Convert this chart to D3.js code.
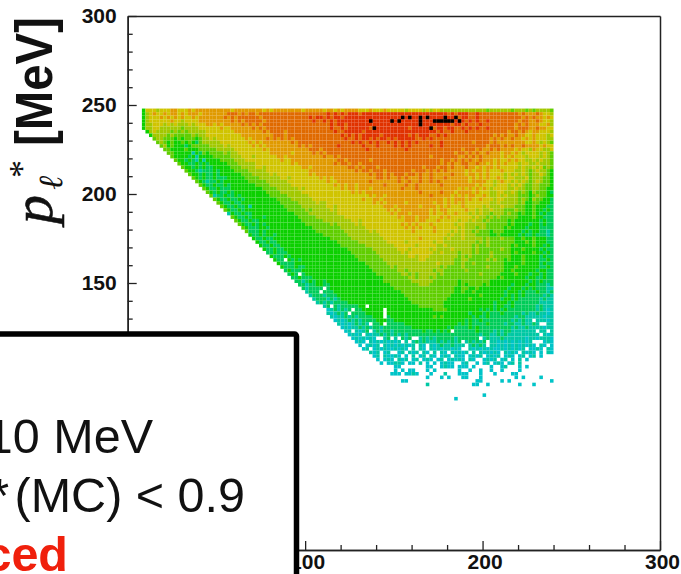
<!DOCTYPE html>
<html lang="en">
<head>
	<meta charset="UTF-8"/>
	<title>p_l* heat map</title>
	<script src="https://d3js.org/d3.v7.min.js"></script>
	<style>
		body{ margin:0; background:#fff; }
		svg{ display:block; }
		.tick text{ font-family:"Liberation Sans", Arial, sans-serif; font-weight:bold; font-size:21px; fill:#111; }
		.axis path{ stroke:#222; stroke-width:1.5; }
		.axis line{ stroke:#222; stroke-width:1.3; }
		.boxText{ font-family:"Liberation Sans", Arial, sans-serif; font-size:48.5px; fill:#111; }
	</style>
</head>
<body>
	<div id="chart"></div>
	<script>
	var w = 681;
	var h = 574;

	var xBins = 2, yBins = 2;
	var xFirstBin = 8;
	var yFirstBin = 246;

	// colour level per bin, one string per row from the top down, '.' = empty bin
	var rows = [
	"3666566677 6667677777 7777767777 7777676777 7777767777 7677676777 7666766676 6666566665 6566555555 5555555455 5555455545 455554",
	"3567667677 6767776777 7777888787 8878888888 8888888888 8898989899 9899999999 9999999999 9999998989 9988988888 8888887877 787665",
	"3566676767 6766767777 7778787888 8887888888 8888888989 9898998999 9999999999 9999999999 9999999998 9988988888 8888888787 877676",
	"3566666676 6566667777 7777787878 8888788888 8888888898 8989899999 9999999999 9999999999 9999999999 9898988988 8888887887 787665",
	"3556665656 5556566677 6767777787 8787888888 8888888888 8889899899 9999999999 9999999999 9999999899 8988898888 8888878787 776675",
	"3556655555 5455556666 6676677777 7878788888 8888888888 8889889899 9999899999 9999989999 9989989988 9898988988 8888878887 787766",
	".356555545 4545555566 6666667777 7777878888 7888888888 8888988999 9989999999 9999999999 9998988988 8988888888 8887887876 776665",
	"..35555454 4444545566 6666666677 7777777888 7888888888 8888889898 9899999899 9999989899 9889898888 8888888887 8787787766 766656",
	"...4554443 4344434556 5666666667 6777787878 7878888888 8888888988 9899898998 9899999889 8988888888 8888888878 7877877676 766655",
	"....454343 3434324555 5566666666 7676777777 7787888888 8888888889 8988989889 8989898988 8888988888 8887888878 7777777766 765654",
	".....45343 3323444445 5556566666 6767677777 7777878788 8888898888 8898889888 8989898888 8988988888 8888888788 8787877877 776766",
	"......4433 3343334444 4555556666 6666767777 7777777888 7888888888 8889888888 8888988888 8888888888 7888787787 8777767665 766556",
	".......443 3333132434 4445455666 6666667777 7767777787 8788888888 8888888888 8888888888 8888888878 8787877877 7677676566 665654",
	"........43 3332313333 4444455566 6566666677 6777777777 7877878888 8888888888 8888888888 8788888887 7878787777 7676766656 665654",
	".........4 3323213133 3344445556 6666666667 6677777777 7777788788 8888788888 8888888888 8888788787 8787787776 7667676655 656554",
	".......... 4332232323 3333444555 5566666666 6676777777 7777878878 8788888888 8888888888 8888787877 8877877676 7676665665 565554",
	".......... .433232322 3333344455 5566566666 6666677677 7777777788 7878887888 8888888887 8887887877 7877676776 7666665655 656454",
	".......... ..43321222 3233334444 5555566666 6666666777 7777777777 8788788878 8888887888 7878787777 7676776766 6766655654 565543",
	".......... ...4332322 3233333344 4555556566 6666666767 7777777777 7777878878 7888788787 7877777877 7677676766 6656565654 556543",
	".......... ....432322 3222333334 4445555556 6566666666 7676777777 7777778878 7787877787 7877787777 7767676766 7656655564 555443",
	".......... .....43212 2323333333 4444455555 5666666666 6676677777 7777877777 7787787787 7878777777 7767777665 6766565654 565443",
	".......... ......4322 3223233333 3344445555 5566666666 6666767677 6777777787 7777877877 7777877777 7777676665 6665656544 554443",
	".......... .......432 2322233333 3333444455 5555656666 6666667677 6777677777 7778777877 7777777776 7676767656 6665565544 554433",
	".......... ........43 2322323333 3333344445 5555566666 6666666667 6767777777 7777777787 7777877767 7776766655 6655654543 544432",
	".......... .........4 1223223233 3333334444 4555555666 6666666666 6666767767 7777777777 7877777676 7677667655 6565554443 454433",
	".......... .......... 4322322323 3333333344 4455555566 6666666666 6676677677 7777777777 7777767677 7676676665 6655554543 544332",
	".......... .......... .432232233 3333333334 4444555556 5566666666 6666676767 7777677777 7767767676 7666666655 6555554533 443332",
	".......... .......... ..43223223 1333333333 4444455555 5566566666 6666666677 7677777767 7776767666 7666665655 5655544433 433322",
	".......... .......... ...4322323 3333333333 3444445455 5556566666 6666666667 6767777777 7676776666 6766565565 5544454433 433232",
	".......... .......... ....132232 2333333333 3334444555 5555566666 6666666666 7677767777 7676676676 6656565545 5545443433 432322",
	".......... .......... .....43223 2333233333 3333444445 5555555666 6666666666 6676777677 7666767666 6665655454 5444443333 433222",
	".......... .......... ......4322 3223333333 3333344444 4555555556 6566666666 6666777677 6667666665 6656554544 4443433333 332322",
	".......... .......... .......432 2323233333 3333334444 4445455555 6566666666 6667676766 6766666656 6555555444 4443433332 332322",
	".......... .......... ........43 2223323333 3333333344 4444445555 5556666666 6666767676 6676666665 6555455444 4434333323 332222",
	".......... .......... .........4 2223233333 3333333334 4444444555 5555656666 6666667666 6676666565 6554544434 4433333232 332212",
	".......... .......... .......... 3223233233 3333333333 3444444455 5555555666 6666666666 6666665655 6555444433 4333332322 322212",
	".......... .......... .......... .322322333 3333333333 3334444445 5555555566 6666666676 6666656555 6555554544 4544433433 433322",
	".......... .......... .......... ..32232233 3333333333 3333344444 4555555556 6666566666 6656655555 5555454544 4444433343 433322",
	".......... .......... .......... ...3223223 3333333333 3333334444 4445555555 5666666566 6665565555 5554544544 4444343333 433232",
	".......... .......... .......... ....322322 3333333333 3333333344 4444455555 5566656666 6565555655 5554544444 4544333433 332322",
	".......... .......... .......... .....22322 2333333333 3333333334 4444445555 5556566666 6655655554 5554544454 4444343333 433232",
	".......... .......... .......... ......3222 3233333333 3333333333 4444444555 5555566566 6555555554 5454444454 4444333433 332322",
	".......... .......... .......... .......322 .323233333 3333333333 3444444455 5555555566 5555555544 5544444545 4434333433 332232",
	".......... .......... .......... ........32 2223333333 3333333333 3334444445 5555555555 5556555544 5445444444 4433333433 332322",
	".......... .......... .......... .........3 2223223333 3333333333 3333444444 5455555555 5555454444 5444444544 4433343333 332232",
	".......... .......... .......... .......... 2322233333 3333333333 3333344444 4455455555 5545544444 4544444444 4433433333 323322",
	".......... .......... .......... .......... .232.23333 3333333333 3333334444 4445545455 5554544444 4444454444 4333343332 332322",
	".......... .......... .......... .......... ..22322233 3333333333 3333333344 4444455455 5454444444 4444444444 3433333323 322322",
	".......... .......... .......... .......... ...2212323 3233333333 3333333344 4444445555 5544444443 4444444433 3333333332 323222",
	".......... .......... .......... .......... ....221223 3223333333 3333333333 4444444455 5444444443 4344443433 3333233323 322212",
	".......... .......... .......... .......... .....21222 2.23333333 3333333333 3444444444 4444444433 4433433333 3332333232 322211",
	".......... .......... .......... .......... ......1222 .222333333 3333333333 3334444444 4444444433 4334333333 3323332322 232212",
	".......... .......... .......... .......... .......122 2122233333 3333333333 3333444444 4444444333 3333343333 3323232322 222121",
	".......... .......... .......... .......... ........12 2212123333 3333333333 3333344444 4444443333 3343333333 3233232222 221211",
	".......... .......... .......... .......... .........1 2121222233 3333333333 3333334444 4444433333 3333333332 3332322222 221111",
	".......... .......... .......... .......... .......... .12.212222 233.333333 3333333344 4444433333 3333333332 3322322222 212111",
	".......... .......... .......... .......... .......... ..0121212. 22333333.3 3333333333 3344443333 3333323232 3232222222 212101",
	".......... .......... .......... .......... .......... ..101212.2 22233333.3 3333333333 3333333333 3323332322 2322222121 121101",
	".......... .......... .......... .......... .......... ...1011212 12222333.2 3333333333 3343433333 3332322322 2222212211 111011",
	".......... .......... .......... .......... .......... ....010121 2122223332 2333333333 3333333333 3232232222 2222121211 .11101",
	".......... .......... .......... .......... .......... .....10101 2121.223.2 2222333333 3333333332 3232222322 2212211211 21..11",
	".......... .......... .......... .......... .......... ......0101 1212122122 2222223333 3333332322 2232322222 2222121121 111011",
	".......... .......... .......... .......... .......... .......01. 1012.12122 1222222223 2232323.22 2222322221 2122111111 1.11.1",
	".......... .......... .......... .......... .......... ........01 01.1011212 1212122222 2222222222 2222212211 2121111111 11.101",
	".......... .......... .......... .......... .......... .........0 101010..12 .1.212..12 1212222212 22222.1211 1211111101 101110",
	".......... .......... .......... .......... .......... .......... 010.101010 101.1.1212 1112121212 .121212.11 0101010101 ...010",
	".......... .......... .......... .......... .......... .......... .0.0101.10 1010101.10 .101211211 1.12121.11 0101010101 0.10.0",
	".......... .......... .......... .......... .......... .......... ..01.01010 01010.1.10 .101011010 ..10101010 01010101.0 010.10",
	".......... .......... .......... .......... .......... .......... ....101.01 ..01.101.1 0.1.10.101 01.1.10101 0.1010.101 0.0.10",
	".......... .......... .......... .......... .......... .......... .....01.10 010.0.1.01 .10.010.10 0.0101.010 1.010.01.0 1.0",
	".......... .......... .......... .......... .......... .......... ......0.01 0.101.01.0 10.01.0101 0.10..0101 .01.0.1.0.",
	".......... .......... .......... .......... .......... .......... .......0.0 0110.00.1. 0.0.0100.. 01..0.01.0 10.01.1",
	".......... .......... .......... .......... .......... .......... .......... .00....... 00..0100.0 00.0....0. .01...0.0.",
	".......... .......... .......... .......... .......... .......... .......... .0.0.00... 0.0......0 ..0..0..0. .0....0...",
	".......... .......... .......... .......... .......... .......... .......... 000.0010.. .0...1...0 00...0...0 ....00....",
	".......... .......... .......... .......... .......... .......... .......... .......... 0...0.0... 00...0.... .....0.0.. ..0...",
	".......... .......... .......... .......... .......... .......... .......... ...00..... .......... ....00.... .0.0...... .....0",
	".......... .......... .......... .......... .......... .......... .......... .......... 1......... ...00..0.. ......0... 0.....",
	"",
	"",
	".......... .......... .......... .......... .......... .......... .......... .......... .......... ......0...",
	".......... .......... .......... .......... .......... .......... .......... .......... ........0."
	];

	// bins over the top of the colour range, drawn black: [p, pl] in MeV
	var overflowX = [136, 138, 148, 152, 154, 158, 164, 164, 164, 168, 170, 172, 174, 176, 178, 178, 180, 182, 184, 186];
	var overflowY = [240, 236, 240, 240, 242, 242, 242, 240, 238, 242, 236, 240, 240, 240, 240, 242, 240, 240, 242, 240];

	var levelColours = ["#00c4c8", "#00c8a4", "#00cc58", "#0cd000", "#60ce00", "#a2c800", "#d0c400", "#e09a00", "#e06a00", "#e03200"];

	// labels below 150 and at x = 0 sit under the legend box
	var xMajor = [100, 200, 300];
	var xMinor = [120, 140, 160, 180, 220, 240, 260, 280];
	var yMajor = [150, 200, 250, 300];
	var yMinor = [130, 140, 160, 170, 180, 190, 210, 220, 230, 240, 260, 270, 280, 290];

	var xScale = d3.scaleLinear().domain([0, 300]).range([127.7, 660]);
	var yScale = d3.scaleLinear().domain([0, 300]).range([550, 16]);

	var bins = [];
	rows.forEach(function(row, r){
		row.replace(/ /g, "").split("").forEach(function(ch, c){
			if(ch != ".") bins.push({ x: xFirstBin + c*xBins, y: yFirstBin - r*yBins, level: +ch });
		});
	});

	var svg = d3.select("#chart")
				.append("svg")
				.attr("width", w)
				.attr("height", h);

	svg.selectAll(".bin")
		.data(bins)
		.enter()
		.append("rect")
		.attr("class", "bin")
		.attr("x", function(d){ return xScale(d.x); })
		.attr("y", function(d){ return yScale(d.y + yBins); })
		.attr("width", xScale(xBins) - xScale(0))
		.attr("height", yScale(0) - yScale(yBins))
		.attr("fill", function(d){ return levelColours[d.level]; });

	svg.selectAll(".over")
		.data(overflowX)
		.enter()
		.append("rect")
		.attr("class", "over")
		.attr("x", function(d){ return xScale(d); })
		.attr("y", function(d, i){ return yScale(overflowY[i] + yBins); })
		.attr("width", xScale(xBins) - xScale(0))
		.attr("height", yScale(0) - yScale(yBins))
		.attr("fill", "#000");

	// frame and ticks, all inward
	svg.append("g").attr("class", "axis")
		.attr("transform", "translate(0," + yScale(0) + ")")
		.call(d3.axisBottom(xScale).tickValues(xMinor).tickSize(-5).tickSizeOuter(0).tickFormat(""));
	svg.append("g").attr("class", "axis")
		.attr("transform", "translate(0," + yScale(0) + ")")
		.call(d3.axisBottom(xScale).tickValues(xMajor).tickSize(-9).tickSizeOuter(0).tickPadding(6))
		.selectAll("text").attr("dx", 2).attr("dy", "13px");
	svg.append("g").attr("class", "axis")
		.attr("transform", "translate(" + xScale(0) + ",0)")
		.call(d3.axisLeft(yScale).tickValues(yMinor).tickSize(-5).tickSizeOuter(0).tickFormat(""));
	svg.append("g").attr("class", "axis")
		.attr("transform", "translate(" + xScale(0) + ",0)")
		.call(d3.axisLeft(yScale).tickValues(yMajor).tickSize(-9).tickSizeOuter(0).tickPadding(11));
	svg.append("g").attr("class", "axis")
		.attr("transform", "translate(" + xScale(300) + ",0)")
		.call(d3.axisRight(yScale).tickValues([]).tickSizeOuter(0));
	svg.append("g").attr("class", "axis")
		.attr("transform", "translate(0," + yScale(300) + ")")
		.call(d3.axisTop(xScale).tickValues([]).tickSizeOuter(0));

	// y title
	svg.append("text")
		.attr("transform", "translate(52,17) rotate(-90)")
		.attr("text-anchor", "end")
		.attr("textLength", 129)
		.attr("lengthAdjust", "spacingAndGlyphs")
		.style("font", "bold 52px 'Liberation Sans'")
		.style("fill", "#111")
		.text("[MeV]");
	svg.append("text")
		.attr("transform", "translate(52,224) rotate(-90)")
		.style("font", "italic 58px 'Liberation Serif'")
		.style("fill", "#111")
		.style("stroke", "#111")
		.style("stroke-width", 0.6)
		.text("p");
	svg.append("text")
		.attr("transform", "translate(62,190) rotate(-90)")
		.style("font", "italic 34px 'Liberation Serif'")
		.style("fill", "#111")
		.text("ℓ");
	svg.append("text")
		.attr("transform", "translate(34,178) rotate(-90)")
		.style("font", "36px 'Liberation Serif'")
		.style("fill", "#111")
		.text("*");

	// legend box sitting over the lower left, cut by the page edge
	svg.append("rect")
		.attr("x", -40)
		.attr("y", 334)
		.attr("width", 336.5)
		.attr("height", 320)
		.attr("rx", 2)
		.attr("fill", "#fff")
		.attr("stroke", "#000")
		.attr("stroke-width", 5.5);
	svg.append("text").attr("class", "boxText")
		.attr("x", 153).attr("y", 453).attr("text-anchor", "end")
		.text("10 MeV");
	svg.append("text").attr("class", "boxText")
		.attr("x", 9).attr("y", 512).attr("text-anchor", "end")
		.text("*");
	svg.append("text").attr("class", "boxText")
		.attr("x", 245).attr("y", 512).attr("text-anchor", "end")
		.text("(MC) < 0.9");
	svg.append("text").attr("class", "boxText")
		.attr("x", 68).attr("y", 571).attr("text-anchor", "end")
		.style("font-weight", "bold")
		.style("fill", "#f0200c")
		.text("ced");
	</script>
</body>
</html>
